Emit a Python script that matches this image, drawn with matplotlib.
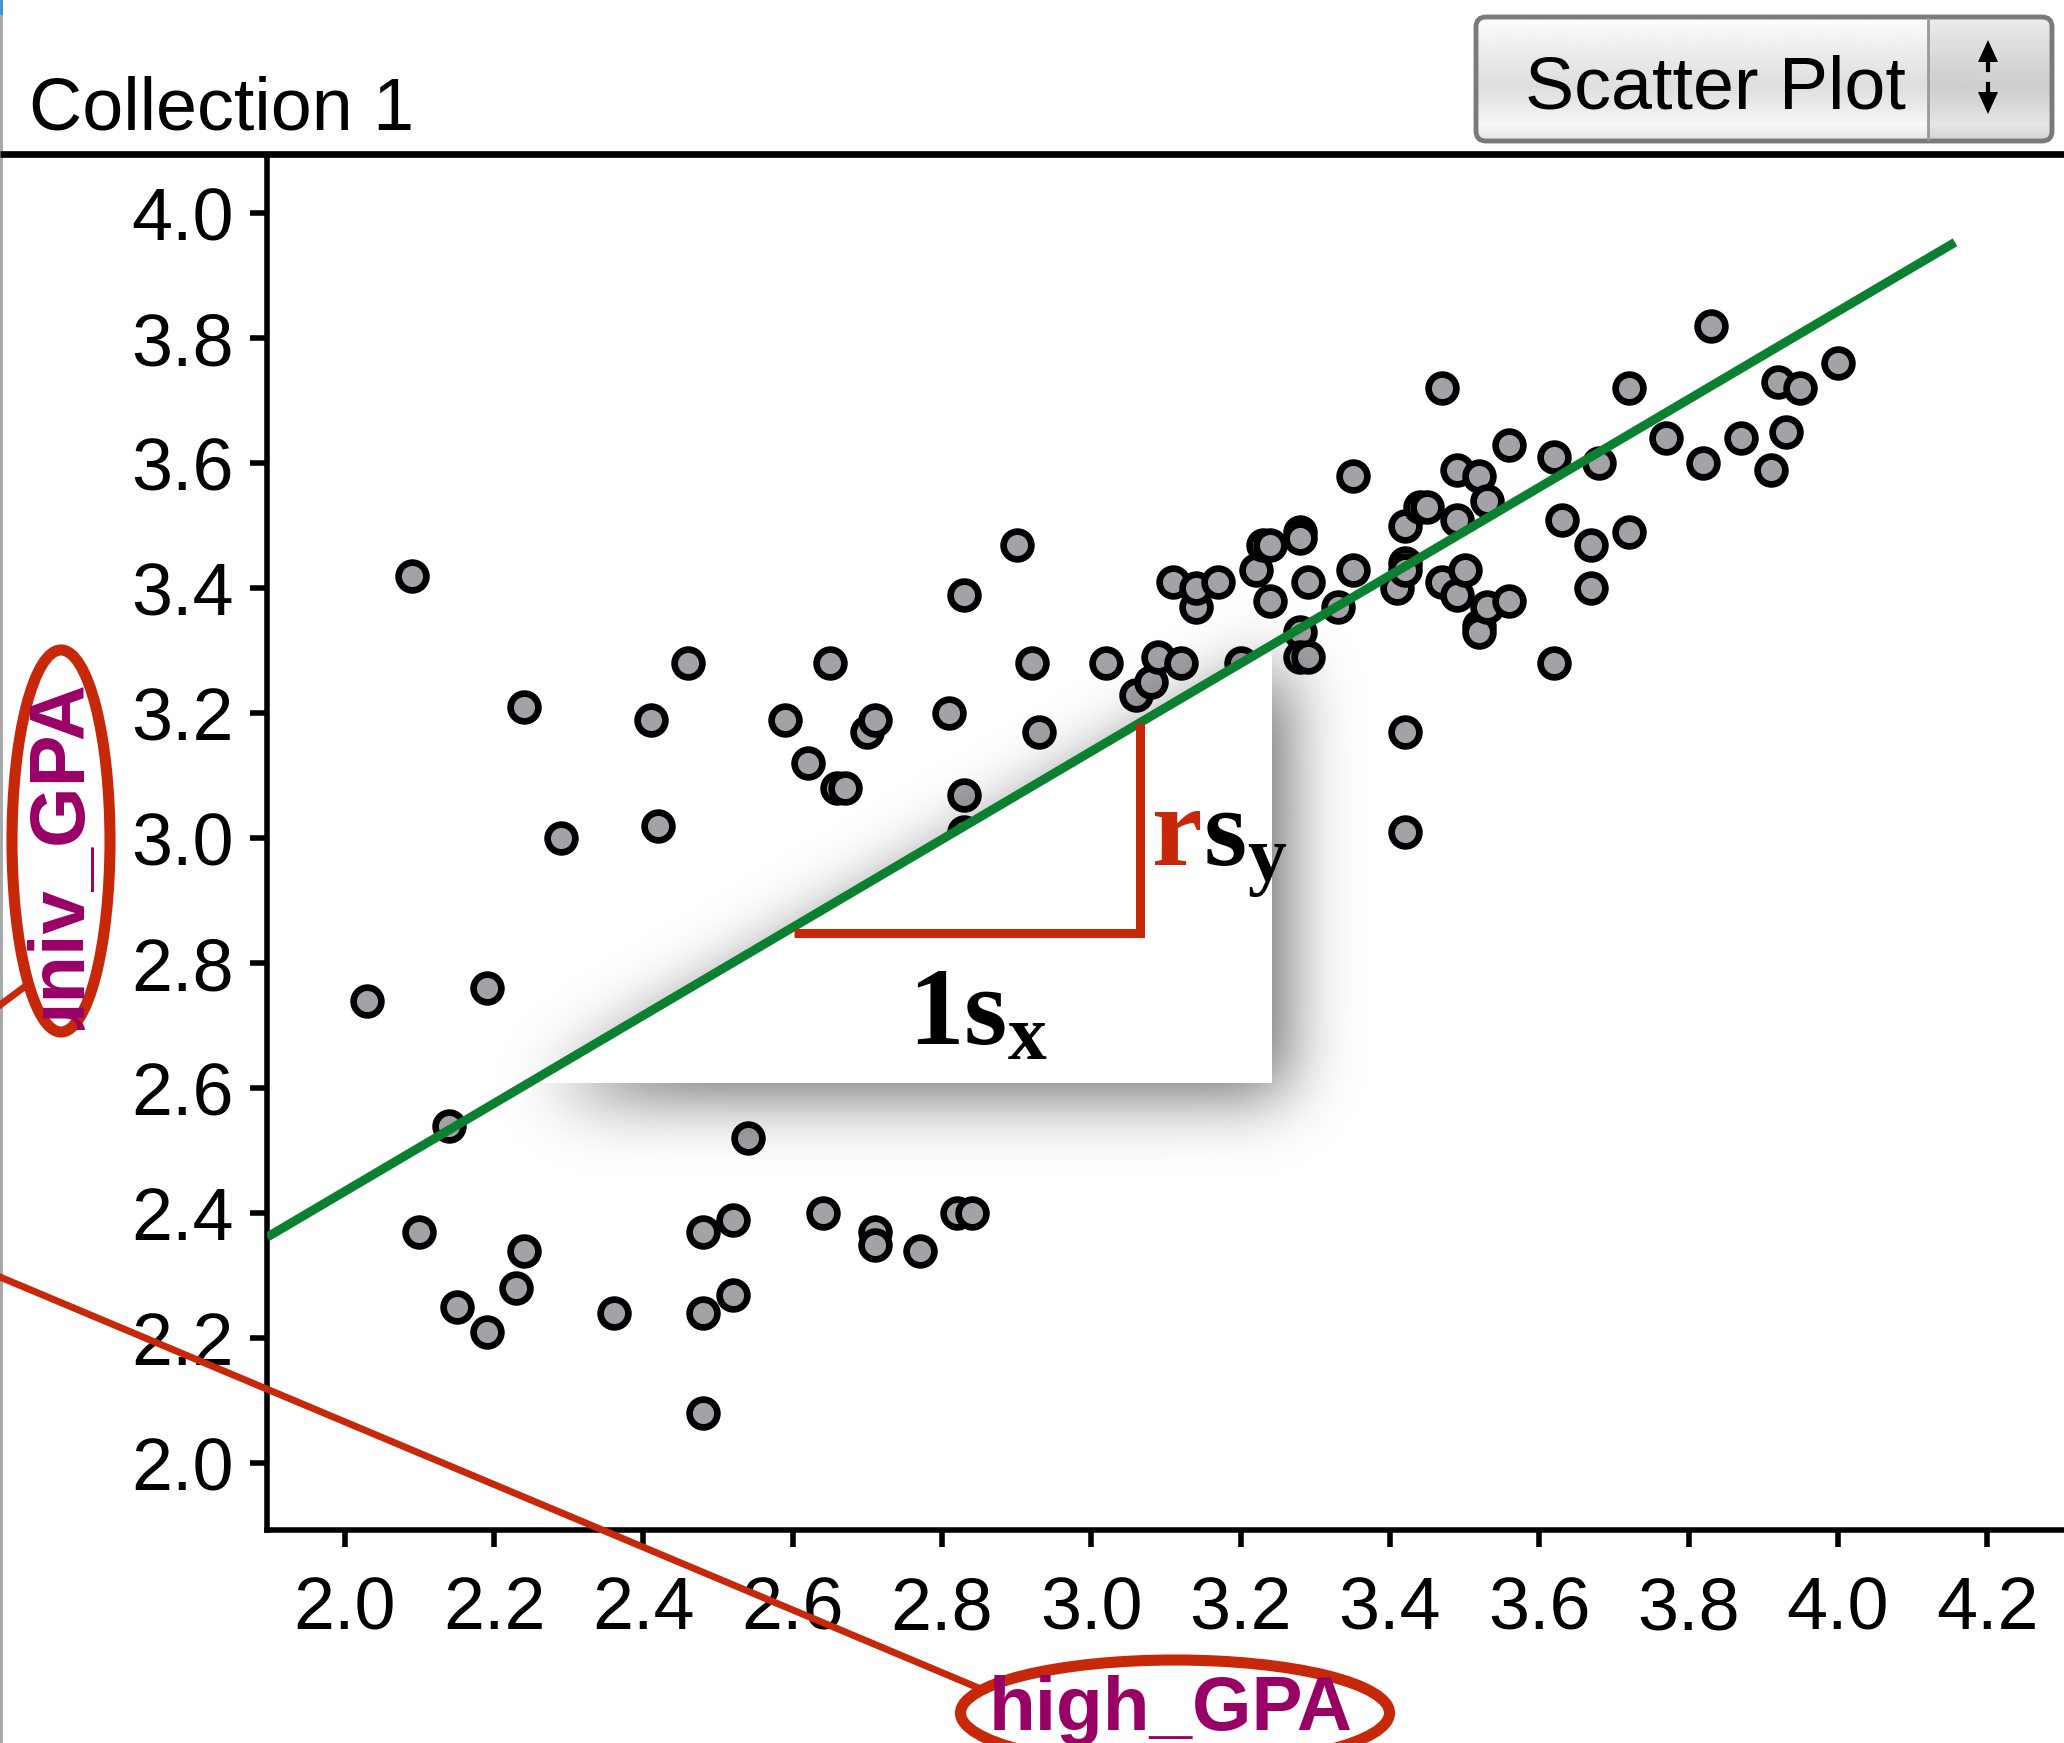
import numpy as np
import matplotlib.pyplot as plt
from matplotlib.patches import Ellipse, FancyBboxPatch, Polygon, Rectangle
from matplotlib.ticker import FormatStrFormatter

plt.rcParams['font.family'] = ['Liberation Sans', 'DejaVu Sans']
plt.rcParams['mathtext.fontset'] = 'custom'
plt.rcParams['mathtext.bf'] = 'Liberation Serif:bold'
plt.rcParams['mathtext.rm'] = 'Liberation Serif:bold'

W, H = 2064, 1743

# high school GPA vs university GPA
high_gpa = [2.03, 2.09, 2.10, 2.14, 2.15, 2.19, 2.19, 2.23, 2.24, 2.24,
            2.29, 2.36, 2.41, 2.42, 2.46, 2.48, 2.48, 2.48, 2.52, 2.52,
            2.54, 2.59, 2.62, 2.64, 2.65, 2.66, 2.67, 2.70, 2.71, 2.71,
            2.71, 2.77, 2.81, 2.82, 2.84, 2.83, 2.83, 2.83, 2.90, 2.92,
            2.93, 3.02, 3.06, 3.08, 3.09, 3.11, 3.12, 3.14, 3.14, 3.17,
            3.20, 3.22, 3.23, 3.24, 3.24, 3.28, 3.28, 3.29, 3.28, 3.28,
            3.29, 3.33, 3.35, 3.35, 3.41, 3.42, 3.42, 3.42, 3.42, 3.42,
            3.44, 3.45, 3.47, 3.47, 3.49, 3.49, 3.49, 3.50, 3.52, 3.52,
            3.52, 3.53, 3.53, 3.56, 3.56, 3.62, 3.62, 3.63, 3.67, 3.68,
            3.67, 3.72, 3.72, 3.77, 3.82, 3.83, 3.87, 3.91, 3.92, 3.93,
            3.95, 4.00]
univ_gpa = [2.74, 3.42, 2.37, 2.54, 2.25, 2.76, 2.21, 2.28, 3.21, 2.34,
            3.00, 2.24, 3.19, 3.02, 3.28, 2.37, 2.24, 2.08, 2.39, 2.27,
            2.52, 3.19, 3.12, 2.40, 3.28, 3.08, 3.08, 3.17, 3.19, 2.37,
            2.35, 2.34, 3.20, 2.40, 2.40, 3.39, 3.07, 3.01, 3.47, 3.28,
            3.17, 3.28, 3.23, 3.25, 3.29, 3.41, 3.28, 3.37, 3.40, 3.41,
            3.28, 3.43, 3.47, 3.47, 3.38, 3.49, 3.48, 3.41, 3.33, 3.29,
            3.29, 3.37, 3.43, 3.58, 3.40, 3.50, 3.44, 3.43, 3.17, 3.01,
            3.53, 3.53, 3.72, 3.41, 3.59, 3.51, 3.39, 3.43, 3.58, 3.34,
            3.33, 3.54, 3.37, 3.63, 3.38, 3.61, 3.28, 3.51, 3.47, 3.60,
            3.40, 3.72, 3.49, 3.64, 3.60, 3.82, 3.64, 3.59, 3.73, 3.65,
            3.72, 3.76]

# least squares line
fit_slope = 0.704
fit_intercept = 1.027
fit_x = np.array([1.896, 4.157])

# rise / run triangle under the line
run_x = [2.602, 3.065]
run_y = 2.8485
box_bottom = 2.6085
box_right = 3.242

x_ticks = np.arange(2.0, 4.21, 0.2)
y_ticks = np.arange(2.0, 4.01, 0.2)


def fit(x):
    return fit_intercept + fit_slope * np.asarray(x)


fig = plt.figure(figsize=(W / 100, H / 100), dpi=100)
ax = fig.add_axes([267 / W, 1 - 1529.5 / H, (W - 267) / W, (1529.5 - 157) / H])

ax.scatter(high_gpa, univ_gpa, s=400, c='#a2a2a7', edgecolors='black',
           linewidths=4.8, zorder=2)

# soft shadow behind the triangle
gx0, gx1, gy0, gy1 = 1.95, 3.7, 2.2, 3.8
step = 4.0
nx = int((gx1 - gx0) * 746.5 / step)
ny = int((gy1 - gy0) * 625 / step)
XX, YY = np.meshgrid(np.linspace(gx0, gx1, nx), np.linspace(gy0, gy1, ny))
Xs, Ys = XX - 16 / 746.5, YY + 12 / 625
mask = ((Ys <= fit(Xs)) & (Xs <= box_right) & (Ys >= box_bottom)).astype(float)
sigma = 34 / step


def gauss(n):
    i = np.arange(n)
    k = np.exp(-0.5 * ((i[:, None] - i[None, :]) / sigma) ** 2)
    return k / k.sum(axis=1, keepdims=True)


blur = gauss(ny) @ mask @ gauss(nx).T
shade = np.zeros((ny, nx, 4))
shade[..., 3] = 0.62 * blur
ax.imshow(shade, extent=[gx0, gx1, gy0, gy1], origin='lower', aspect='auto',
          interpolation='bilinear', zorder=3)

x_left = (box_bottom - fit_intercept) / fit_slope
ax.add_patch(Polygon([(x_left, box_bottom), (box_right, box_bottom),
                      (box_right, fit(box_right))],
                     closed=True, facecolor='white', edgecolor='none', zorder=4))

ax.plot(fit_x, fit(fit_x), color='#0a8030', lw=6.5, solid_capstyle='butt', zorder=5)
ax.plot([run_x[0], run_x[1], run_x[1]], [run_y, run_y, fit(run_x[1])],
        color='#c8280a', lw=6.5, solid_joinstyle='miter', solid_capstyle='butt',
        zorder=6)

ax.set_xlim(1.8958, 4.303)
ax.set_ylim(1.894, 4.090)
ax.set_xticks(x_ticks)
ax.set_yticks(y_ticks)
ax.xaxis.set_major_formatter(FormatStrFormatter('%.1f'))
ax.yaxis.set_major_formatter(FormatStrFormatter('%.1f'))
ax.tick_params(direction='out', length=12, width=4, labelsize=53)
ax.tick_params(axis='y', pad=12)
ax.tick_params(axis='x', pad=21)
for side in ['top', 'right']:
    ax.spines[side].set_visible(False)
for side in ['left', 'bottom']:
    ax.spines[side].set_linewidth(4)

# overlay in pixel coordinates for header, labels and callouts
ov = fig.add_axes([0, 0, 1, 1], zorder=10)
ov.set_xlim(0, W)
ov.set_ylim(H, 0)
ov.axis('off')

ov.add_patch(Rectangle((0, 0), 3, H, facecolor='#a9a9a9', edgecolor='none'))
ov.add_patch(Rectangle((0, 0), 3, 15, facecolor='#4a90d9', edgecolor='none'))
ov.plot([0, W], [153.5, 153.5], color='black', lw=4.8, solid_capstyle='butt')
ov.text(29, 129, 'Collection 1', fontsize=53, va='baseline', ha='left')

# chart type selector
btn = FancyBboxPatch((1476, 17), 576, 124, boxstyle='round,pad=0,rounding_size=10',
                     facecolor='none', edgecolor='#7a7a7a', lw=3.5, zorder=2)
ov.add_patch(btn)
grad = np.concatenate([np.linspace(0.99, 0.96, 20), np.linspace(0.95, 0.87, 50),
                       np.linspace(0.87, 0.97, 40), np.linspace(0.96, 0.90, 14)])
img = np.repeat(grad[:, None], 10, axis=1)
im = ov.imshow(img, cmap='gray', vmin=0, vmax=1, extent=[1476, 2052, 141, 17],
               aspect='auto', interpolation='bilinear', zorder=1)
im.set_clip_path(btn)
shade_r = Rectangle((1928, 17), 124, 124, facecolor='#000000', alpha=0.07,
                    edgecolor='none', zorder=1.5)
ov.add_patch(shade_r)
shade_r.set_clip_path(btn)
ov.plot([1928, 1928], [19, 139], color='#9a9a9a', lw=2, zorder=2)
ov.text(1715, 108, 'Scatter Plot', fontsize=53, ha='center', va='baseline', zorder=3)
ov.add_patch(Polygon([(1978, 62), (1998, 62), (1988, 40)], facecolor='black', zorder=3))
ov.add_patch(Polygon([(1978, 92), (1998, 92), (1988, 114)], facecolor='black', zorder=3))
ov.plot([1988, 1988], [60, 70], color='black', lw=3, zorder=3)
ov.plot([1988, 1988], [84, 94], color='black', lw=3, zorder=3)

# axis labels with circled callouts
red = '#c8280a'
purple = '#990066'
ylab = ov.text(60, 862, 'univ_GPA', fontsize=56, fontweight='bold', color=purple,
               rotation=90, ha='center', va='center')
ylab.set_clip_on(True)
ylab.set_clip_path(Rectangle((0, 673), 130, 357, transform=ov.transData))
ov.add_patch(Ellipse((61, 841), 98, 382, fill=False, edgecolor=red, lw=8))
ov.plot([0, 23], [1005, 988], color=red, lw=5)

ov.text(1171, 1730, 'high_GPA', fontsize=55, fontweight='bold', color=purple,
        ha='center', va='baseline')
ov.add_patch(Ellipse((1175, 1713), 429, 106, fill=False, edgecolor=red, lw=8))
ov.plot([0, 981], [1277, 1689], color=red, lw=5)

# slope labels: rise r*s_y over run 1*s_x
ov.text(1152, 865, 'r', fontsize=82, fontweight='bold', color=red,
        family='Liberation Serif', va='baseline', ha='left')
ov.text(1203, 867, r'$\mathbf{s_y}$', fontsize=80, color='black',
        va='baseline', ha='left')
ov.text(908, 1045, r'$\mathbf{1s_x}$', fontsize=80, color='black',
        va='baseline', ha='left')

fig.savefig('out.png', dpi=100)
